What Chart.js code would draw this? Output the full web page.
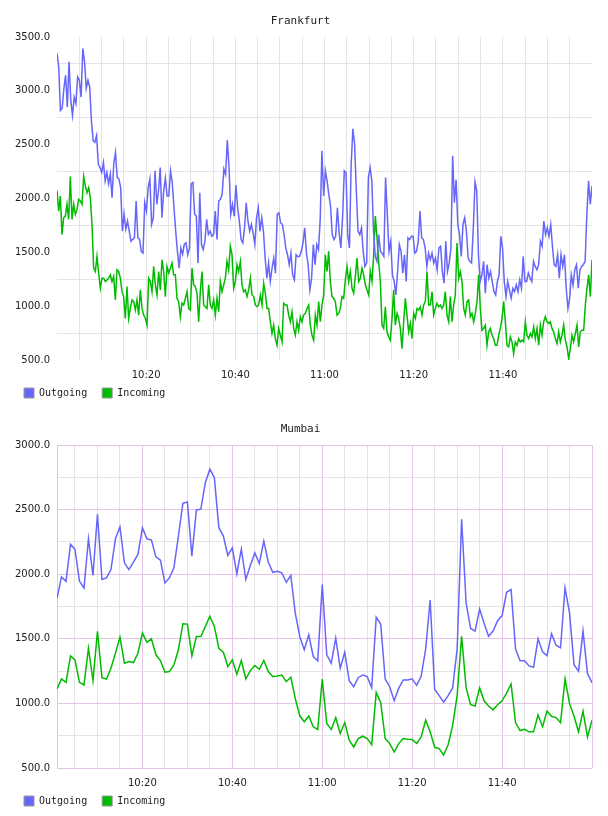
<!DOCTYPE html>
<html>
<head>
<meta charset="utf-8">
<script src="https://cdn.jsdelivr.net/npm/chart.js@4/dist/chart.umd.min.js"></script>
<style>
  html, body { margin: 0; padding: 0; background: #fff; overflow: hidden; }
  canvas { position: absolute; left: 0; }
  #frankfurt { top: 0; }
  #mumbai { top: 408px; }
</style>
</head>
<body>
<canvas id="frankfurt" width="608" height="408"></canvas>
<canvas id="mumbai" width="608" height="408"></canvas>
<script>
// series names, shared by both panels
const seriesNames = ["Outgoing", "Incoming"];
const seriesColors = ["#6666fa", "#00bb00"];

// Frankfurt: samples spread evenly from 10:00 to 12:00
const frankfurtStart = 0;
const frankfurtEnd = 120;
const frankfurtOutgoing = [
  3348, 3222, 2818, 2836, 3023, 3145, 2849, 3269, 2911, 2771, 2942, 2883, 3129, 3098, 2942, 3394, 3269, 3023, 3098, 3036,
  2724, 2537, 2522, 2584, 2319, 2288, 2241, 2335, 2164, 2241, 2136, 2229, 2007, 2322, 2428, 2194, 2182, 2101,
  1696, 1855, 1715, 1790, 1696, 1603, 1621, 1634, 1977, 1634, 1621, 1509, 1493, 1961, 1883, 2101, 2182, 1759, 1821, 2257,
  1946, 2070, 2288, 1821, 2070, 2190, 2023, 2023, 2257, 2150, 1914, 1696, 1509, 1353, 1540, 1481, 1575, 1587, 1478, 1540,
  2136, 2148, 1855, 1836, 1400, 2054,
  1572, 1525, 1603, 1806, 1665, 1696, 1649, 1665, 1883, 1619, 1977, 1993, 2039, 2273, 2222, 2544, 2288, 1852, 1946, 1836,
  2126, 1914, 1790, 1619, 1587, 1727, 1961, 1790, 1696, 1759, 1681, 1572, 1821, 1914, 1696, 1821, 1696, 1447, 1260, 1400,
  1229, 1353, 1447, 1307, 1852, 1868, 1774, 1759, 1665, 1540, 1478, 1385, 1493, 1291, 1244, 1478, 1462, 1462, 1509, 1587,
  1727, 1493, 1385, 1151, 1260, 1572, 1385, 1572, 1525, 1806, 2444, 2023, 2257, 2164, 2039, 1930, 1665, 1619, 1649, 1914,
  1681, 1540, 1821, 2257, 2241, 1665, 1540, 2319, 2647, 2506, 2070, 1696, 1665, 1727, 1509, 1369, 1400, 2194, 2288, 2164,
  1696, 1462, 1416, 1665, 1509, 1493, 1462,
  2194, 1852, 1509, 1603, 1291, 1229, 1104, 1322, 1572, 1509, 1307, 1478, 1229, 1634, 1619, 1649, 1649, 1493, 1509, 1603,
  1883, 1634, 1619, 1540, 1369, 1493, 1431, 1493, 1400, 1447, 1338, 1540, 1556, 1322, 1213, 1603, 1322, 1400, 1540, 2397,
  1961, 2173, 1759, 1665, 1462, 1759, 1821, 1696, 1447, 1416, 1400, 1727, 2154, 2070, 1478, 1229, 1291, 1416, 1120, 1385,
  1260, 1322, 1229, 1135, 1104, 1229, 1291, 1649, 1540, 1229, 1089, 1229, 1151, 1073, 1166, 1135, 1198, 1135, 1244, 1166,
  1462, 1229, 1229, 1307, 1260, 1229, 1416, 1369, 1338, 1385, 1603, 1556, 1790, 1665, 1727, 1649, 1759, 1556, 1385, 1369,
  1478, 1260, 1478, 1369, 1478, 1166, 979, 1073, 1291, 1198, 1338, 1385, 1166, 1338, 1369, 1385, 1416, 1852, 2164, 1946,
  2117
];
const frankfurtIncoming = [
  2077, 1883, 2023, 1665, 1821, 1836, 1946, 1806, 2204, 1806, 1946, 1852, 1899, 1993, 1977, 1946, 2204, 2117, 2054, 2101,
  2007, 1759, 1353, 1322, 1462, 1307, 1166, 1260, 1260, 1229, 1244, 1260, 1291, 1229, 1276, 1058, 1338, 1322, 1260, 1135,
  1089, 886, 1182, 886, 979, 1058, 1042, 964, 1058, 917, 1151, 979, 917, 886, 824, 1260, 1229, 1135, 1369, 1198,
  1104, 1322, 1151, 1431, 1322, 1089, 1369, 1307, 1353, 1400, 1291, 1291, 1073, 1042, 902, 1027, 1011, 1073, 1135, 979,
  964, 1353, 1198, 1182, 1120, 855,
  1135, 1322, 1011, 995, 979, 1198, 1011, 979, 1058, 917, 1073, 948, 1229, 1135, 1198, 1260, 1416, 1338, 1556, 1478,
  1166, 1229, 1385, 1322, 1416, 1198, 1135, 1151, 1089, 1151, 1260, 1104, 1089, 1011, 995, 1011, 1104, 1011, 1213, 1120,
  979, 979, 855, 746, 824, 699, 637, 793, 730, 668, 1027, 1011, 1011, 917, 855, 948, 793, 730, 855, 777,
  902, 855, 917, 933, 979, 1011, 824, 730, 684, 917, 824, 1042, 855, 1011, 1104, 1478, 1322, 1509, 1229, 1089,
  1073, 1042, 917, 933, 979, 1089, 1073, 1244, 1369, 1229, 1322, 1166, 1120, 1276, 1447, 1229, 1260, 1353, 1291, 1198,
  1151, 1104, 1322, 1229, 1478, 1836, 1634, 1416, 1229, 824, 793, 995, 762, 715, 684, 886, 1151, 824, 933, 886,
  793,
  605, 855, 1073, 917, 762, 840, 699, 933, 886, 979, 964, 995, 917, 1011, 1042, 1322, 1011, 1011, 1135, 917,
  979, 1027, 995, 1011, 979, 1011, 1135, 917, 855, 1089, 855, 1011, 1104, 1587, 1260, 1322, 1229, 979, 917, 1042,
  1058, 902, 933, 855, 933, 1042, 1291, 979, 777, 793, 824, 637, 762, 793, 730, 699, 637, 637, 730, 793,
  886, 1042, 855, 637, 621, 715, 668, 559, 668, 637, 699, 668, 684, 668, 855, 730, 699, 746, 715, 808,
  699, 793, 637, 824, 730, 855, 902, 855, 840, 855, 793, 762, 699, 653, 762, 668, 730, 824, 684, 621,
  512, 605, 730, 668, 746, 824, 621, 762, 777, 777, 1011, 1166, 1291, 1089, 1431
];

// Mumbai: one sample a minute, 10:01 to 12:00
const mumbaiStart = 1;
const mumbaiEnd = 120;
const mumbaiOutgoing = [
  1816, 1979, 1945, 2231, 2192, 1945, 1893, 2274, 1990, 2464, 1959, 1971, 2036, 2274, 2367, 2088, 2036, 2093, 2153, 2360,
  2274, 2264, 2134, 2109, 1932, 1971, 2049, 2295, 2549, 2559, 2140, 2497, 2503, 2710, 2813, 2748, 2360, 2295, 2145, 2204,
  2002, 2194, 1959, 2067, 2165, 2083, 2256, 2093, 2015, 2023, 2010, 1938, 1990, 1699, 1518, 1415, 1531, 1363, 1329, 1920,
  1376, 1311, 1505, 1272, 1396, 1176, 1129, 1199, 1220, 1207, 1122, 1666, 1614, 1189, 1129, 1021, 1116, 1181, 1181, 1190,
  1140, 1210, 1420, 1800, 1110, 1060, 1010, 1060, 1120, 1420, 2425, 1777, 1580, 1560, 1730, 1620, 1520, 1560, 1640, 1680,
  1860, 1881, 1420, 1330, 1330, 1290, 1280, 1500, 1400, 1370, 1540, 1450, 1430, 1894, 1700, 1300, 1250, 1560, 1230, 1160
];
const mumbaiIncoming = [
  1112, 1189, 1163, 1368, 1337, 1163, 1143, 1427, 1176, 1557, 1199, 1189, 1272, 1388, 1513, 1311, 1324, 1316, 1388, 1544,
  1472, 1500, 1376, 1332, 1241, 1246, 1298, 1415, 1617, 1614, 1370, 1518, 1518, 1596, 1674, 1596, 1427, 1396, 1285, 1337,
  1225, 1332, 1189, 1254, 1293, 1264, 1332, 1246, 1207, 1212, 1220, 1168, 1202, 1039, 904, 858, 902, 819, 798, 1189,
  844, 798, 889, 767, 852, 715, 663, 728, 746, 728, 681, 1085, 1008, 728, 689, 624, 689, 728, 723, 720,
  690, 740, 870, 780, 660, 650, 600, 680, 830, 1060, 1520, 1120, 990, 980, 1120, 1020, 980, 950, 990, 1020,
  1080, 1150, 850, 790, 800, 780, 780, 910, 820, 940, 900, 890, 850, 1190, 1000, 900, 780, 940, 740, 870
];

// y ticks every 250, labels only on the 500s
const yStep = 250;
const yLabelStep = 500;
// x ticks every 5 minutes, labels every 20
const xStep = 5;
const xLabelStep = 20;

const GRAY = "#e4e4e4";
const PINK = "#e6c4e6";
const CLEAR = "rgba(0,0,0,0)";

// the x axis box is kept short so the legend sits close under it,
// but its labels are clipped to that box, so stretch it after layout
const stretchXAxis = {
    id: 'stretchXAxis',
    afterLayout(chart){
        chart.scales.x.bottom += 14;
    }
};

function toPoints(values, start, end){
    let step = (end - start) / (values.length - 1);
    return values.map((v, i) => ({x: start + i * step, y: v}));
}

function clockLabel(minutes){
    let h = 10 + Math.floor(minutes / 60);
    let m = minutes % 60;
    return h + ":" + (m < 10 ? "0" + m : m);
}

function buildChart(canvasId, title, start, end, yMax, outgoing, incoming, pinkGrid){
    let datasets = [outgoing, incoming].map((values, i) => ({
        label: seriesNames[i],
        data: toPoints(values, start, end),
        borderColor: seriesColors[i],
        backgroundColor: seriesColors[i],
        borderWidth: 1.5,
        pointRadius: 0,
        tension: 0,
        fill: false,
    }));

    let config = {
        type: 'line',
        data: { datasets: datasets },
        plugins: [stretchXAxis],
        options: {
            responsive: false,
            animation: false,
            devicePixelRatio: 1,
            layout: { padding: { left: 9, right: 16, top: 0, bottom: 0 } },
            scales: {
                x: {
                    type: 'linear',
                    min: start,
                    max: end,
                    afterBuildTicks: scale => {
                        let ticks = [];
                        for (let v = xStep; v <= end; v += xStep) {
                            if (v > start && (v < end || pinkGrid)) ticks.push({value: v});
                        }
                        scale.ticks = ticks;
                    },
                    afterFit: scale => { scale.height = 13; },
                    ticks: {
                        autoSkip: false,
                        maxRotation: 0,
                        padding: 9,
                        color: "#222",
                        font: { family: "DejaVu Sans", size: 10 },
                        callback: v => (v % xLabelStep === 0 && v < 120) ? clockLabel(v) : "",
                    },
                    grid: {
                        drawTicks: false,
                        color: ctx => (pinkGrid && ctx.tick && ctx.tick.value % xLabelStep === 0) ? PINK : GRAY,
                    },
                    border: { display: false },
                },
                y: {
                    min: 500,
                    max: yMax,
                    afterFit: scale => { scale.width = 48; },
                    ticks: {
                        stepSize: yStep,
                        autoSkip: false,
                        padding: 7,
                        color: "#222",
                        font: { family: "DejaVu Sans", size: 10 },
                        callback: v => (v % yLabelStep === 0) ? v.toFixed(1) : "",
                    },
                    grid: {
                        drawTicks: false,
                        color: ctx => {
                            let onLabel = ctx.tick && ctx.tick.value % yLabelStep === 0;
                            if (!onLabel) return GRAY;
                            return pinkGrid ? PINK : CLEAR;
                        },
                    },
                    border: { display: pinkGrid, color: PINK },
                },
            },
            plugins: {
                title: {
                    display: true,
                    text: title,
                    color: "#222",
                    font: { family: "DejaVu Sans Mono", size: 11, weight: 'normal' },
                    padding: { top: 15, bottom: 8.8 },
                },
                legend: {
                    position: 'bottom',
                    align: 'start',
                    labels: {
                        boxWidth: 10,
                        boxHeight: 10,
                        padding: 15,
                        color: "#222",
                        font: { family: "DejaVu Sans Mono", size: 10 },
                        generateLabels: chart => {
                            let items = Chart.defaults.plugins.legend.labels.generateLabels(chart);
                            items.forEach(item => {
                                item.strokeStyle = "#999";
                                item.lineWidth = 1;
                            });
                            return items;
                        },
                    },
                },
                tooltip: { enabled: false },
            },
        },
    };
    let ctx = document.getElementById(canvasId).getContext('2d');
    return new Chart(ctx, config);
}

buildChart("frankfurt", "Frankfurt", frankfurtStart, frankfurtEnd, 3500, frankfurtOutgoing, frankfurtIncoming, false);
buildChart("mumbai", "Mumbai", mumbaiStart, mumbaiEnd, 3000, mumbaiOutgoing, mumbaiIncoming, true);
</script>
</body>
</html>
